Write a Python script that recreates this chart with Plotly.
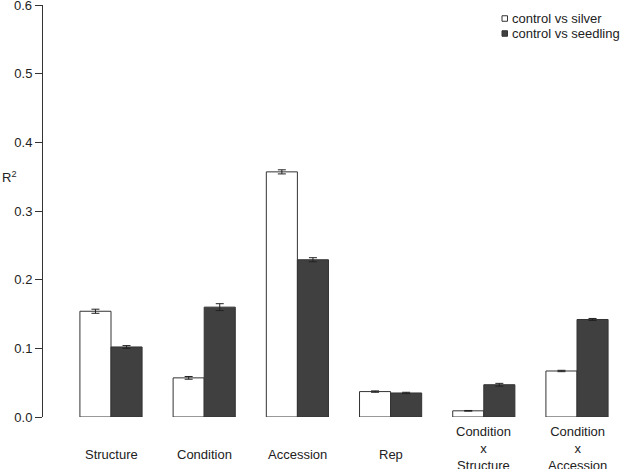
import plotly.graph_objects as go

categories = ["Structure", "Condition", "Accession", "Rep", "Condition<br>x<br>Structure", "Condition<br>x<br>Accession"]
silver = [0.154, 0.057, 0.357, 0.037, 0.009, 0.067]
silver_err = [0.003, 0.002, 0.003, 0.001, 0.0005, 0.001]
seedling = [0.102, 0.160, 0.229, 0.035, 0.047, 0.142]
seedling_err = [0.002, 0.005, 0.003, 0.001, 0.002, 0.0015]
yticks = [0.0, 0.1, 0.2, 0.3, 0.4, 0.5, 0.6]
series_names = ["control vs silver", "control vs seedling"]

xs = list(range(len(categories)))
font_family = "Liberation Sans, Arial, sans-serif"
edge = "#333333"
dark = "#404040"
txt = "#222222"
fs = 13

W, H = 626, 469
ML, MR, MT, MB = 43, 0, 5, 52
PW, PH = W - ML - MR, H - MT - MB
GROUP_PX = 93.2
X0 = -(111 - ML) / GROUP_PX


def px(x):
    return (x - ML) / PW


def py(y):
    return (H - MB - y) / PH


fig = go.Figure()
fig.add_trace(go.Bar(
    x=xs, y=silver, name=series_names[0], showlegend=False,
    marker=dict(color="white", line=dict(color=edge, width=1)),
    error_y=dict(type="data", array=silver_err, color=txt, thickness=1, width=4),
))
fig.add_trace(go.Bar(
    x=xs, y=seedling, name=series_names[1], showlegend=False,
    marker=dict(color=dark, line=dict(color=edge, width=1)),
    error_y=dict(type="data", array=seedling_err, color=txt, thickness=1, width=4),
))

for i, c in enumerate(categories):
    multi = "<br>" in c
    fig.add_annotation(
        x=i, xref="x", y=0, yref="paper", yanchor="middle",
        yshift=-31 if multi else -37, text=c, showarrow=False,
        font=dict(size=fs, color=txt, family=font_family),
    )

# y axis title
fig.add_annotation(
    x=0, xref="paper", xanchor="left", xshift=-43, y=0.35, yref="y", yanchor="middle",
    text="R<sup>2</sup>", showarrow=False,
    font=dict(size=fs, color=txt, family=font_family),
)
# top tick label (drawn as annotation so it is not dropped at the edge)
fig.add_annotation(
    x=0, xref="paper", xanchor="right", xshift=-9, y=yticks[-1], yref="y", yanchor="middle",
    text=f"{yticks[-1]:.1f}", showarrow=False,
    font=dict(size=fs, color=txt, family=font_family),
)

# manual legend
fills = ["white", dark]
rows_y = [18.5, 33.5]
for name, fill, ry in zip(series_names, fills, rows_y):
    fig.add_shape(type="rect", xref="paper", yref="paper",
                  x0=px(502), x1=px(507.5), y0=py(ry + 2.75), y1=py(ry - 2.75),
                  fillcolor=fill, line=dict(color=edge, width=1))
    fig.add_annotation(x=px(510), xref="paper", xanchor="left", y=py(ry), yref="paper",
                       yanchor="middle", text=name, showarrow=False,
                       font=dict(size=fs, color=txt, family=font_family))

fig.update_layout(
    width=W, height=H,
    margin=dict(l=ML, r=MR, t=MT, b=MB),
    paper_bgcolor="white", plot_bgcolor="white",
    barmode="group", bargap=0.333, bargroupgap=0,
    font=dict(family=font_family, size=fs, color=txt),
    showlegend=False,
    xaxis=dict(range=[X0, X0 + PW / GROUP_PX], showticklabels=False, showgrid=False,
               zeroline=False, showline=False, ticks=""),
    yaxis=dict(range=[0, 0.6], tickvals=yticks,
               ticktext=[f"{v:.1f}" for v in yticks[:-1]] + [""],
               showgrid=False, zeroline=False, showline=True, linecolor=edge, linewidth=1,
               ticks="outside", ticklen=7, tickcolor=edge, tickwidth=1,
               tickfont=dict(size=fs, family=font_family, color=txt)),
)

fig.write_html("out.html", config={"displayModeBar": False},
               post_script="document.body.style.margin='0';")
